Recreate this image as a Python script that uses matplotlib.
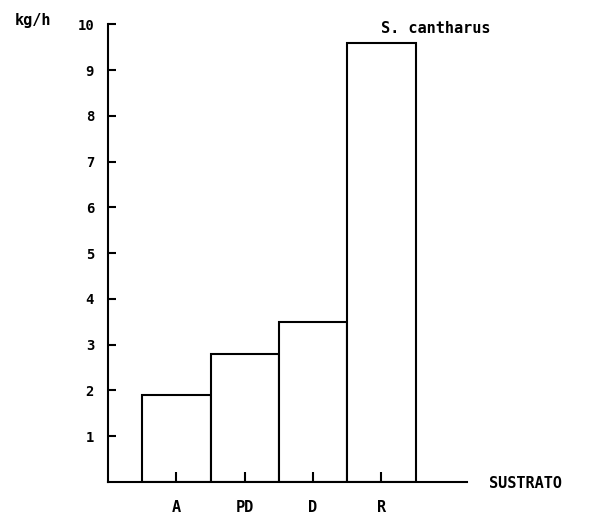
import matplotlib.pyplot as plt
import numpy as np

# 資料
categories = ["A", "PD", "D", "R"]
values = [1.9, 2.8, 3.5, 9.6]
y_ticks = [1, 2, 3, 4, 5, 6, 7, 8, 9, 10]

FONT = dict(family="DejaVu Sans Mono", fontweight="bold", fontsize=11)
TICKFONT = dict(family="DejaVu Sans Mono", fontweight="bold", fontsize=10)

fig = plt.figure(figsize=(6, 5.22), dpi=100)
ax = fig.add_axes([0.18, 0.0766, 0.598, 0.877])

x = np.arange(len(categories))
ax.bar(x, values, width=1.0, color="white", edgecolor="black", linewidth=1.5)

ax.set_xlim(-1, 4.25)
ax.set_ylim(0, 10)
ax.spines["top"].set_visible(False)
ax.spines["right"].set_visible(False)
ax.spines["left"].set_linewidth(1.5)
ax.spines["bottom"].set_linewidth(1.5)

ax.set_xticks(x)
ax.set_xticklabels(categories, **FONT)
ax.set_yticks(y_ticks)
ax.set_yticklabels([str(v) for v in y_ticks], **TICKFONT)
ax.tick_params(axis="x", direction="in", length=7, width=1.5, pad=13)
ax.tick_params(axis="y", direction="in", length=6, width=1.5, pad=10)

fig.text(0.025, 0.96, "kg/h", ha="left", va="center", **FONT)
fig.text(0.635, 0.946, "S. cantharus", ha="left", va="center", **FONT)
fig.text(0.815, 0.074, "SUSTRATO", ha="left", va="center", **FONT)

plt.savefig("out.png", dpi=100)
